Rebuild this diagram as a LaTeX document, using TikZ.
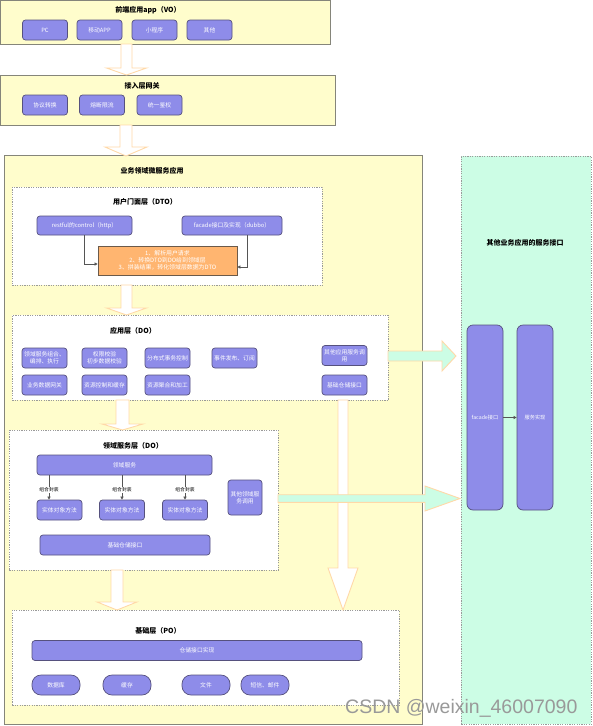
\documentclass[tikz,border=0pt]{standalone}
\usepackage{fontspec}
\setmainfont{Noto Sans CJK SC}
\newfontfamily\wmfont{Liberation Sans}
\usetikzlibrary{calc,arrows.meta}
\definecolor{yel}{HTML}{FFFDCC}
\definecolor{outerline}{HTML}{85857A}
\definecolor{dashline}{HTML}{9A9A9A}
\definecolor{purp}{HTML}{8E8CE9}
\definecolor{purpline}{HTML}{56517E}
\definecolor{orangefill}{HTML}{FFB570}
\definecolor{orangeline}{HTML}{6B5A4A}
\definecolor{mint}{HTML}{CCFDE5}
\definecolor{arrowline}{HTML}{FFD9A8}
\definecolor{connline}{HTML}{555555}
\definecolor{wmgray}{HTML}{999999}
\tikzset{
  sz/.style 2 args={minimum width=#1pt, minimum height=#2pt},
  layerbox/.style={draw=outerline, fill=yel, line width=0.8pt, inner sep=0pt},
  dashbox/.style={draw=dashline, fill=white, dash pattern=on 1.2pt off 1.2pt, line width=0.6pt, inner sep=0pt},
  panelbox/.style={draw=dashline, fill=mint, dash pattern=on 1.2pt off 1.2pt, line width=0.6pt, inner sep=0pt},
  btn/.style={draw=purpline, fill=purp, rounded corners=3pt, text=white, font=\fontsize{5.8}{7}\selectfont, align=center, inner sep=0pt, line width=0.7pt},
  pill/.style={btn, rounded corners=9pt},
  obox/.style={draw=orangeline, fill=orangefill, text=white, font=\fontsize{5.9}{7}\selectfont, align=center, inner sep=0pt, line width=0.7pt},
  ttl/.style={font=\bfseries\fontsize{7}{8}\selectfont, inner sep=0pt},
  conn/.style={draw=connline, line width=0.6pt, -{Triangle[length=3pt,width=3pt]}},
  smalllbl/.style={font=\fontsize{4.8}{5.5}\selectfont, fill=white, inner sep=0.6pt},
  blockline/.style={draw=arrowline, line width=0.9pt, line join=miter},
}
% down block arrow: start, end, half shaft, half head, head length, fill
\newcommand\vblock[6]{%
  \draw[blockline, fill=#6] let \p1=(#1), \p2=(#2) in
    (\x1-#3,\y1) -- (\x1-#3,\y2+#5) -- (\x1-#4,\y2+#5) -- (\x1,\y2)
    -- (\x1+#4,\y2+#5) -- (\x1+#3,\y2+#5) -- (\x1+#3,\y1) -- cycle;}
% right block arrow
\newcommand\hblock[6]{%
  \draw[blockline, fill=#6] let \p1=(#1), \p2=(#2) in
    (\x1,\y1-#3) -- (\x2-#5,\y1-#3) -- (\x2-#5,\y1-#4) -- (\x2,\y1)
    -- (\x2-#5,\y1+#4) -- (\x2-#5,\y1+#3) -- (\x1,\y1+#3) -- cycle;}
\begin{document}
\begin{tikzpicture}[x=1pt, y=-1pt]
\useasboundingbox (0,0) rectangle (593,726);
\fill[white] (0,0) rectangle (593,726);

% ---------- containers ----------
\node[layerbox, anchor=north west, sz={330}{44}] (fe) at (0,0) {};
\node[layerbox, anchor=north west, sz={335}{50}] (gw) at (0,75) {};
\node[layerbox, anchor=north west, sz={418}{569}] (biz) at (4,155) {};
\node[dashbox, anchor=north west, sz={310}{98}] (facL) at (12,187) {};
\node[dashbox, anchor=north west, sz={376}{85}] (appL) at (12,315) {};
\node[dashbox, anchor=north west, sz={269}{140}] (domL) at (9,430) {};
\node[dashbox, anchor=north west, sz={387}{95}] (baseL) at (12,610) {};
\node[panelbox, anchor=north west, sz={130}{568}] (panel) at (461,156) {};

% ---------- titles ----------
\node[ttl] (t1) at (148,10.5) {前端应用app（VO）};
\node[ttl] (t2) at (142,86) {接入层网关};
\node[ttl] (t3) at (152,171) {业务领域微服务应用};
\node[ttl] (t4) at (145,202) {用户门面层（DTO）};
\node[ttl] (t5) at (133,331) {应用层（DO）};
\node[ttl] (t6) at (133,445.5) {领域服务层（DO）};
\node[ttl] (t7) at (158,631) {基础层（PO）};
\node[ttl] (t8) at (525,243) {其他业务应用的服务接口};

% ---------- block arrows ----------
\coordinate (a1s) at (126.5,44);  \coordinate (a1e) at (126.5,75);
\coordinate (a2s) at (126,125);   \coordinate (a2e) at (126,156);
\coordinate (a3s) at (126.5,285); \coordinate (a3e) at (126.5,315);
\coordinate (a4s) at (122.5,400); \coordinate (a4e) at (122.5,430);
\coordinate (a5s) at (117,570);   \coordinate (a5e) at (117,610);
\coordinate (a6s) at (343,400);   \coordinate (a6e) at (343,610);
\coordinate (m1s) at (388,356);   \coordinate (m1e) at (456,356);
\coordinate (m2s) at (278,498.5); \coordinate (m2e) at (460,498.5);
\vblock{a1s}{a1e}{5.5pt}{20pt}{7pt}{white}
\vblock{a2s}{a2e}{6pt}{21pt}{9pt}{white}
\vblock{a3s}{a3e}{5.5pt}{20pt}{7pt}{white}
\vblock{a4s}{a4e}{6.5pt}{20.5pt}{6pt}{white}
\vblock{a5s}{a5e}{6pt}{20pt}{8pt}{white}
\vblock{a6s}{a6e}{5pt}{15pt}{42pt}{white}
\hblock{m1s}{m1e}{5pt}{15pt}{14pt}{mint}
\hblock{m2s}{m2e}{3.8pt}{12.5pt}{35pt}{mint}

% ---------- front-end ----------
\node[btn, sz={45}{20}] (pc) at (45,30) {PC};
\node[btn, sz={45}{20}] (mob) at (99.5,30) {移动APP};
\node[btn, sz={45}{20}] (mini) at (154.5,30) {小程序};
\node[btn, sz={45}{20}] (oth) at (209.5,30) {其他};

% ---------- gateway ----------
\node[btn, sz={45}{20}] (proto) at (45,105) {协议转换};
\node[btn, sz={45}{20}] (fuse) at (102,105) {熔断限流};
\node[btn, sz={45}{20}] (auth) at (159.5,105) {统一鉴权};

% ---------- facade layer ----------
\node[btn, sz={95}{19}] (rest) at (84.5,225.5) {restful的control（http）};
\node[btn, sz={100}{19}] (fac) at (232,225.5) {facade接口及实现（dubbo）};
\node[obox, sz={139}{29}] (ora) at (167.5,260.5) {1、解析用户请求\\2、转换DTO到DO给到领域层\\3、拼装结果，转化领域层数据为DTO};
\draw[conn] (rest.south) |- ([yshift=-3.5pt]ora.west);
\coordinate (facout) at ([xshift=15pt]fac.south);
\draw[conn] (facout) |- ([yshift=-6.5pt]ora.east);

% ---------- application layer ----------
\node[btn, sz={45}{20}] (ap1) at (44.5,358) {领域服务组合、\\编排、执行};
\node[btn, sz={45}{20}] (ap2) at (104.5,358) {权限校验\\初步数据校验};
\node[btn, sz={45}{20}] (ap3) at (167.5,358) {分布式事务控制};
\node[btn, sz={45}{20}] (ap4) at (234.5,358) {事件发布、订阅};
\node[btn, sz={45}{20}] (ap5) at (344.5,355.5) {其他应用服务调\\用};
\node[btn, sz={45}{20}] (ap6) at (44.5,385) {业务数据网关};
\node[btn, sz={45}{20}] (ap7) at (104.5,385) {资源控制和缓存};
\node[btn, sz={45}{20}] (ap8) at (167.5,385) {资源聚合和加工};
\node[btn, sz={45}{20}] (ap9) at (344.5,385) {基础仓储接口};

% ---------- domain layer ----------
\node[btn, sz={175}{20}] (ds) at (124.5,465) {领域服务};
\node[btn, sz={45}{20}] (e1) at (59.5,510) {实体对象方法};
\node[btn, sz={45}{20}] (e2) at (122,510) {实体对象方法};
\node[btn, sz={45}{20}] (e3) at (185,510) {实体对象方法};
\node[btn, sz={34}{35}] (ods) at (245,497.5) {其他领域服\\务调用};
\node[btn, sz={170}{20}] (repo) at (125,545) {基础仓储接口};
\coordinate (e1t) at ([xshift=-10.5pt]e1.north);
\draw[conn] (e1t |- ds.south) -- node[smalllbl, pos=0.6] {组合封装} (e1t);
\draw[conn] (e2.north |- ds.south) -- node[smalllbl, pos=0.6] {组合封装} (e2.north);
\draw[conn] (e3.north |- ds.south) -- node[smalllbl, pos=0.6] {组合封装} (e3.north);

% ---------- base layer ----------
\node[btn, sz={330}{20}] (impl) at (197,650.5) {仓储接口实现};
\node[pill, sz={48}{20}] (db) at (56,685) {数据库};
\node[pill, sz={48}{20}] (cache) at (127,685) {缓存};
\node[pill, sz={48}{20}] (file) at (206,685) {文件};
\node[pill, sz={48}{20}] (sms) at (265,685) {短信、邮件};

% ---------- other business apps ----------
\node[btn, rounded corners=6pt, sz={36}{185}, font=\fontsize{5.2}{6}\selectfont] (fif) at (485,417.5) {facade接口};
\node[btn, rounded corners=6pt, sz={36}{185}, font=\fontsize{5.2}{6}\selectfont] (svc) at (535,417.5) {服务实现};
\draw[conn] (fif.east) -- (svc.west);

% ---------- watermark ----------
\node[anchor=base west, inner sep=0pt, text=wmgray, font=\wmfont\fontsize{19.5}{20}\selectfont] (wm) at (345,713) {CSDN @weixin\_46007090};
\end{tikzpicture}
\end{document}
